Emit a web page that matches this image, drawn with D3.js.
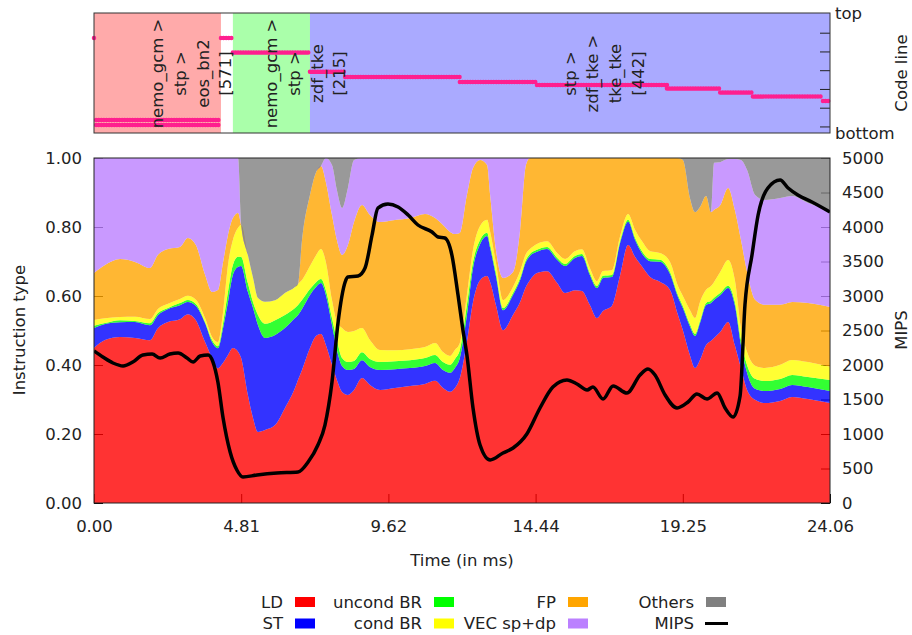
<!DOCTYPE html>
<html>
<head>
<meta charset="utf-8">
<script src="https://cdn.jsdelivr.net/npm/d3@7"></script>
<style>
  body { margin: 0; background: #fff; }
  svg text { font-family: "DejaVu Sans", sans-serif; font-size: 16.5px; fill: #222; }
</style>
</head>
<body>
<svg id="chart" width="912" height="635"></svg>
<script>
// ---- instruction mix samples (fraction of instructions, time in ms) ----
const time = [0.00,0.36,0.85,1.34,1.83,2.09,2.42,2.81,3.07,3.33,3.63,3.86,4.05,4.22,4.38,4.54,4.71,4.81,5.03,5.20,5.36,5.59,5.92,6.24,6.57,6.67,6.80,7.06,7.26,7.42,7.58,7.78,7.94,8.11,8.30,8.50,8.76,9.02,9.35,9.84,10.33,10.82,11.15,11.41,11.64,11.80,11.96,12.19,12.39,12.62,12.85,12.95,13.14,13.37,13.70,13.93,14.12,14.25,14.48,14.81,15.14,15.40,15.72,15.95,16.21,16.44,16.64,16.93,17.20,17.46,17.69,17.91,18.18,18.50,18.83,19.09,19.25,19.48,19.65,19.81,20.01,20.17,20.27,20.47,20.73,20.95,21.15,21.35,21.61,21.93,22.43,22.82,23.34,24.06];
const LD       = [.449,.472,.481,.478,.472,.507,.525,.533,.548,.530,.467,.420,.391,.406,.429,.449,.438,.420,.313,.246,.206,.212,.226,.275,.333,.357,.386,.449,.484,.490,.458,.400,.357,.322,.313,.328,.362,.342,.328,.333,.339,.345,.354,.333,.322,.333,.362,.467,.583,.646,.658,.641,.574,.501,.545,.583,.626,.646,.667,.672,.638,.609,.617,.614,.574,.536,.557,.571,.661,.748,.713,.687,.655,.641,.617,.545,.501,.429,.391,.414,.458,.470,.478,.496,.525,.458,.391,.328,.299,.290,.296,.307,.301,.290];
const ST       = [.058,.046,.043,.046,.043,.038,.038,.041,.035,.041,.055,.046,.058,.101,.154,.212,.246,.267,.299,.319,.310,.267,.261,.232,.203,.188,.177,.154,.142,.148,.145,.116,.087,.075,.072,.061,.052,.052,.058,.055,.052,.052,.052,.052,.055,.058,.058,.078,.099,.104,.116,.099,.084,.058,.058,.064,.072,.070,.061,.064,.067,.078,.093,.101,.087,.087,.096,.084,.093,.067,.049,.038,.046,.058,.046,.052,.064,.084,.093,.107,.116,.110,.110,.107,.099,.116,.067,.049,.032,.035,.035,.035,.035,.035];
const uncondBR = [.006,.003,.006,.003,.006,.006,.003,.006,.006,.006,.003,.006,.006,.014,.029,.029,.029,.026,.026,.017,.029,.041,.043,.038,.029,.029,.026,.017,.014,.012,.014,.020,.029,.023,.023,.023,.023,.023,.023,.023,.023,.023,.023,.023,.023,.026,.023,.029,.017,.012,.009,.009,.009,.006,.006,.006,.006,.006,.006,.006,.006,.006,.006,.006,.006,.006,.006,.006,.006,.006,.006,.006,.006,.006,.006,.006,.006,.006,.006,.006,.006,.006,.006,.006,.006,.009,.014,.023,.029,.029,.029,.029,.029,.032];
const condBR   = [.017,.014,.009,.012,.012,.012,.012,.012,.012,.012,.012,.009,.012,.032,.078,.072,.084,.093,.081,.070,.049,.064,.058,.064,.061,.061,.058,.067,.078,.087,.081,.052,.052,.087,.087,.087,.070,.055,.035,.032,.032,.032,.035,.029,.026,.026,.020,.029,.035,.041,.038,.038,.029,.023,.017,.020,.017,.014,.017,.017,.014,.014,.014,.014,.014,.014,.014,.014,.014,.017,.023,.029,.023,.020,.029,.026,.029,.041,.046,.055,.038,.043,.046,.061,.075,.064,.035,.038,.038,.038,.041,.043,.043,.038];
const FP       = [.136,.154,.168,.159,.148,.157,.159,.151,.168,.159,.125,.130,.151,.145,.087,.064,.043,0,0,0,0,0,0,0,0,0,.116,.206,.241,.241,.232,.246,.238,.212,.252,.316,.357,.362,.371,.377,.380,.386,.362,.368,.359,.336,.319,.290,.238,.191,.159,.107,.038,.064,.043,.119,.258,.264,.249,.241,.275,.293,.270,.264,.319,.357,.328,.325,.226,.162,.209,.241,.270,.275,.301,.371,.394,.325,.307,.275,.272,.214,.209,.194,.209,.203,.255,.232,.191,.183,.174,.168,.171,.174];
const VEC      = [.333,.310,.293,.301,.319,.281,.264,.258,.232,.252,.339,.388,.383,.301,.223,.174,.159,0,0,0,0,0,0,0,0,0,0,0,0,0,.070,.145,.145,.136,.165,.180,.136,.165,.186,.180,.174,.162,.174,.194,.214,.220,.217,.107,.029,.006,.020,.107,.267,.348,.330,.209,.020,0,0,0,0,0,0,0,0,0,0,0,0,0,0,0,0,0,0,0,0,0,0,0,0,0,.136,.125,.084,.148,.232,.296,.304,.304,.310,.307,.290,.281];
const Others   = [0,0,0,0,0,0,0,0,0,0,0,0,0,0,0,0,0,.194,.281,.348,.406,.417,.412,.391,.374,.365,.238,.107,.041,.023,0,.020,.093,.145,.087,.006,0,0,0,0,0,0,0,0,0,0,0,0,0,0,0,0,0,0,0,0,0,0,0,0,0,0,0,0,0,0,0,0,0,0,0,0,0,0,0,0,.006,.116,.157,.142,.110,.157,.014,.012,.003,.003,.006,.035,.107,.122,.116,.110,.130,.151];

// ---- MIPS samples ----
const mipsTime = [0.00,0.29,0.62,0.95,1.27,1.60,1.90,2.16,2.48,2.75,3.04,3.24,3.47,3.73,3.89,4.05,4.22,4.45,4.67,4.87,5.33,5.98,6.67,7.00,7.32,7.55,7.78,7.98,8.21,8.30,8.63,8.86,9.09,9.28,9.61,9.94,10.27,10.59,11.05,11.25,11.47,11.70,11.90,12.06,12.19,12.39,12.62,12.95,13.37,13.70,14.15,14.58,15.00,15.46,15.79,16.12,16.31,16.64,16.97,17.42,17.85,18.11,18.34,18.67,19.06,19.42,19.71,20.04,20.37,20.63,20.89,21.12,21.28,21.51,21.71,22.03,22.43,22.69,23.01,23.47,24.06];
const mips = [2203,2116,2029,1986,2043,2145,2159,2101,2159,2174,2101,2043,2130,2145,2043,1754,1232,739,478,377,406,435,449,594,841,1130,1754,2623,3203,3275,3290,3406,3884,4275,4333,4290,4174,4029,3928,3855,3841,3594,3014,2507,2145,1377,841,623,725,797,1000,1377,1681,1783,1725,1638,1681,1507,1696,1594,1855,1942,1855,1565,1377,1464,1580,1507,1594,1377,1246,1551,2870,3594,4174,4565,4681,4565,4464,4362,4217];

// ---- code line trace (segments: start ms, end ms, line position) ----
const codeStart = [0.00, 0.07, 0.07, 4.15, 4.54, 7.06, 8.21, 11.96, 14.48, 18.73, 20.47, 21.54, 23.83];
const codeEnd   = [0.05, 4.13, 4.13, 4.54, 7.06, 8.21, 11.96, 14.48, 18.73, 20.47, 21.54, 23.83, 24.06];
const codeLine  = [507, 69, 43, 507, 429, 327, 299, 272, 256, 237, 216, 195, 171];

// ---- code regions ----
const regionStart = [0.00, 4.54, 7.06];
const regionEnd   = [4.15, 7.06, 24.06];
const regionLabel = [
  ["nemo_gcm >", "stp >", "eos_bn2", "[571]"],
  ["nemo_gcm >", "stp >", "zdf_tke", "[215]"],
  ["stp >", "zdf_tke >", "tke_tke", "[442]"]
];

// ---- axes ----
const xTicks = [0, 4.812, 9.624, 14.436, 19.248, 24.06];
const yTicks = [0, 0.2, 0.4, 0.6, 0.8, 1.0];
const mipsTicks = [0, 500, 1000, 1500, 2000, 2500, 3000, 3500, 4000, 4500, 5000];
const codeTicks = [35, 135, 235, 335, 435, 535];

const seriesNames = ["LD", "ST", "uncond BR", "cond BR", "FP", "VEC sp+dp", "Others"];
const seriesData = [LD, ST, uncondBR, condBR, FP, VEC, Others];
const seriesColors = ["#ff0000", "#0000ff", "#00ff00", "#ffff00", "#ffa500", "#bb80ff", "#808080"];
const regionColors = ["#ffaaaa", "#aaffaa", "#aaaaff"];

const svg = d3.select("#chart");
const L = 94, R = 830, T = 158, B = 503;   // main plot
const CT = 13, CB = 133;                   // code-line panel

const x = d3.scaleLinear().domain([0, 24.06]).range([L, R]);
const y = d3.scaleLinear().domain([0, 1]).range([B, T]);
const y2 = d3.scaleLinear().domain([0, 5000]).range([B, T]);
const yc = d3.scaleLinear().domain([0, 640]).range([CB, CT]);

// ================= code line panel =================
const codePanel = svg.append("g");
codePanel.selectAll("rect.region").data(regionStart).join("rect")
  .attr("x", (d, i) => x(d)).attr("width", (d, i) => x(regionEnd[i]) - x(d))
  .attr("y", CT).attr("height", CB - CT)
  .attr("fill", (d, i) => regionColors[i]);

codePanel.selectAll("line.code").data(codeStart).join("line")
  .attr("x1", (d) => x(d)).attr("x2", (d, i) => x(codeEnd[i]))
  .attr("y1", (d, i) => yc(codeLine[i])).attr("y2", (d, i) => yc(codeLine[i]))
  .attr("stroke", "#ff1f8f").attr("stroke-width", 4.5)
  .attr("stroke-linecap", "round").attr("stroke-dasharray", "0 2.6");

regionLabel.forEach((lines, i) => {
  const xc = x((regionStart[i] + regionEnd[i]) / 2);
  lines.forEach((s, k) => {
    codePanel.append("text")
      .attr("transform", `translate(${xc + k * 22.7},73.5) rotate(-90)`)
      .attr("text-anchor", "middle").attr("dy", "0.35em")
      .text(s);
  });
});

codePanel.append("g").attr("transform", `translate(${R},0)`)
  .call(d3.axisRight(yc).tickValues(codeTicks).tickFormat("").tickSizeInner(-10).tickSizeOuter(0))
  .call(g => g.select(".domain").remove())
  .call(g => g.selectAll("line").attr("stroke", "#222"));

codePanel.append("rect").attr("x", L).attr("y", CT).attr("width", R - L).attr("height", CB - CT)
  .attr("fill", "none").attr("stroke", "#333").attr("stroke-width", 1);

codePanel.append("text").attr("x", 835).attr("y", CT).attr("dy", "0.35em").text("top");
codePanel.append("text").attr("x", 835).attr("y", CB).attr("dy", "0.35em").text("bottom");
codePanel.append("text").attr("transform", `translate(907,73) rotate(-90)`)
  .attr("text-anchor", "middle").text("Code line");

// ================= main plot =================
// axes first, so the translucent areas lie over the inward ticks
const fmt2 = d3.format(".2f");
svg.append("g").attr("transform", `translate(0,${B})`)
  .call(d3.axisBottom(x).tickValues(xTicks).tickFormat(fmt2).tickSizeInner(-9).tickSizeOuter(0).tickPadding(17))
  .call(g => g.select(".domain").remove())
  .call(g => g.selectAll("line").attr("stroke", "#000"))
  .call(g => g.selectAll("text").attr("font-size", null).attr("font-family", null));
svg.append("g").attr("transform", `translate(${L},0)`)
  .call(d3.axisLeft(y).tickValues(yTicks).tickFormat(fmt2).tickSizeInner(-9).tickSizeOuter(0).tickPadding(12))
  .call(g => g.select(".domain").remove())
  .call(g => g.selectAll("line").attr("stroke", "#000"))
  .call(g => g.selectAll("text").attr("font-size", null).attr("font-family", null));
svg.append("g").attr("transform", `translate(${R},0)`)
  .call(d3.axisRight(y2).tickValues(mipsTicks).tickFormat(d3.format("d")).tickSizeInner(-9).tickSizeOuter(0).tickPadding(12))
  .call(g => g.select(".domain").remove())
  .call(g => g.selectAll("line").attr("stroke", "#000"))
  .call(g => g.selectAll("text").attr("font-size", null).attr("font-family", null));

// stacked instruction mix
const rows = time.map((t, i) => {
  const r = { t };
  seriesNames.forEach((n, k) => { r[n] = seriesData[k][i]; });
  return r;
});
const stacked = d3.stack().keys(seriesNames).offset(d3.stackOffsetExpand)(rows);

svg.append("clipPath").attr("id", "plotclip")
  .append("rect").attr("x", L).attr("y", T).attr("width", R - L).attr("height", B - T);

const area = d3.area()
  .x(d => x(d.data.t)).y0(d => y(d[0])).y1(d => y(d[1]))
  .curve(d3.curveMonotoneX);

svg.append("g").attr("clip-path", "url(#plotclip)")
  .selectAll("path").data(stacked).join("path")
  .attr("d", area)
  .attr("fill", (d, i) => seriesColors[i])
  .attr("fill-opacity", 0.8);

// MIPS
const mipsLine = d3.line()
  .x((d, i) => x(mipsTime[i])).y(d => y2(d))
  .curve(d3.curveMonotoneX);
svg.append("path").datum(mips)
  .attr("d", mipsLine).attr("fill", "none")
  .attr("stroke", "#000").attr("stroke-width", 3.5).attr("stroke-linejoin", "round")
  .attr("clip-path", "url(#plotclip)");

svg.append("rect").attr("x", L).attr("y", T).attr("width", R - L).attr("height", B - T)
  .attr("fill", "none").attr("stroke", "#222").attr("stroke-width", 1);

// axis titles
svg.append("text").attr("transform", `translate(25,330) rotate(-90)`)
  .attr("text-anchor", "middle").text("Instruction type");
svg.append("text").attr("transform", `translate(907,330) rotate(-90)`)
  .attr("text-anchor", "middle").text("MIPS");
svg.append("text").attr("x", (L + R) / 2).attr("y", 566)
  .attr("text-anchor", "middle").text("Time (in ms)");

// ================= legend =================
const legendItems = seriesNames.map((n, i) => ({ name: n, color: seriesColors[i], line: false }))
  .concat([{ name: "MIPS", color: "#000", line: true }]);
const colTextEnd = [283, 422, 556, 694];
const rowY = [602, 623.5];
const legend = svg.append("g");
legendItems.forEach((d, i) => {
  const col = Math.floor(i / 2), row = i % 2;
  const tx = colTextEnd[col], cy = rowY[row];
  legend.append("text").attr("x", tx).attr("y", cy).attr("dy", "0.35em")
    .attr("text-anchor", "end").text(d.name);
  if (d.line) {
    legend.append("line").attr("x1", tx + 11).attr("x2", tx + 34)
      .attr("y1", cy).attr("y2", cy).attr("stroke", d.color).attr("stroke-width", 3);
  } else {
    legend.append("rect").attr("x", tx + 12).attr("y", cy - 5)
      .attr("width", 20).attr("height", 10).attr("fill", d.color);
  }
});
</script>
</body>
</html>
